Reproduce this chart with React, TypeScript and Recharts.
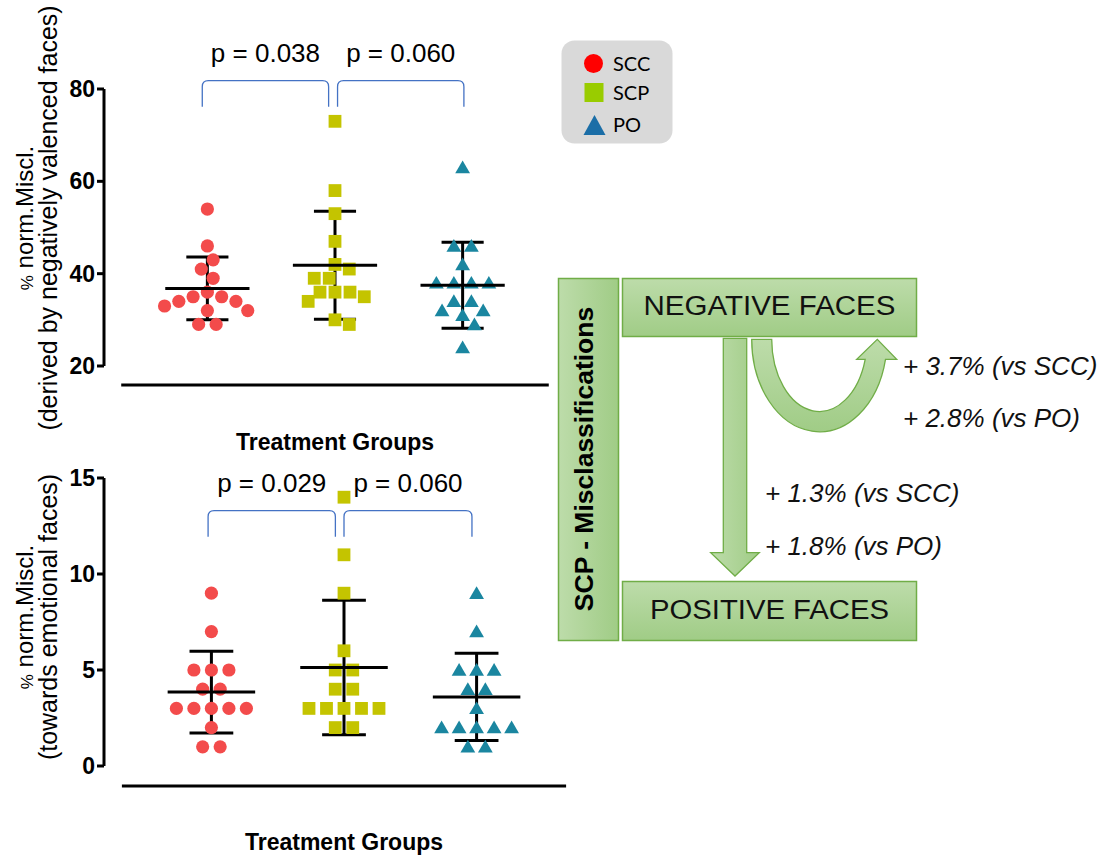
import { ComposedChart, Scatter, XAxis, YAxis, ErrorBar, ReferenceLine, Legend } from "recharts";

const FONT = "'Liberation Sans', Arial, Helvetica, sans-serif";

// treatment groups
const groups = ["SCC", "SCP", "PO"];

// top panel: % norm. misclassifications derived by negatively valenced faces
const negSCC = [54, 46, 43, 41, 39, 36, 35, 35, 34, 34, 33, 32, 32, 29, 29];
const negSCP = [73, 58, 53, 47, 42, 41, 39, 39, 36, 36, 36, 35, 34, 30, 29];
const negPO = [63, 46, 46, 42, 38, 38, 38, 38, 34, 34, 32, 32, 31, 29, 24];
const negMean = [36.8, 41.8, 37.5];
const negSd = [6.8, 11.7, 9.3];
const negTicks = [20, 40, 60, 80];
const negPValues = ["p = 0.038", "p = 0.060"];

// bottom panel: % norm. misclassifications towards emotional faces
const emoSCC = [9, 7, 5, 5, 5, 4, 4, 3, 3, 3, 3, 3, 2, 1, 1];
const emoSCP = [14, 11, 9, 6, 5, 5, 4, 4, 3, 3, 3, 3, 3, 2, 2];
const emoPO = [9, 7, 5, 5, 5, 4, 4, 3, 2, 2, 2, 2, 2, 1, 1];
const emoMean = [3.85, 5.13, 3.6];
const emoSd = [2.13, 3.5, 2.27];
const emoTicks = [0, 5, 10, 15];
const emoPValues = ["p = 0.029", "p = 0.060"];

// diagram annotations
const negShift = ["+ 3.7% (vs SCC)", "+ 2.8% (vs PO)"];
const posShift = ["+ 1.3% (vs SCC)", "+ 1.8% (vs PO)"];

const pointColors = ["#f34b4b", "#c4c400", "#1a86a0"];
const legendColors = ["#ff0000", "#99cc00", "#1b6ea7"];

const X_DOMAIN: [number, number] = [0.19, 3.81];
const Y_AXIS_W = 104;

// simple beeswarm: identical values form a centred row, otherwise nudge sideways
function swarm(values: number[], pxY: number, step: number, diam: number): number[] {
  const order = values.map((_, i) => i).sort((a, b) => values[b] - values[a]);
  const placed: { x: number; y: number }[] = [];
  const out = new Array(values.length).fill(0);
  const free = (x: number, y: number) =>
    placed.every((p) => (p.x - x) ** 2 + (p.y - y) ** 2 >= diam * diam - 0.01);
  let side = 1;
  let k = 0;
  while (k < order.length) {
    const v = values[order[k]];
    const same: number[] = [];
    while (k < order.length && values[order[k]] === v) same.push(order[k++]);
    const y = v * pxY;
    const row = same.map((_, i) => (i - (same.length - 1) / 2) * step);
    if (row.every((x) => free(x, y))) {
      row.forEach((x, i) => {
        out[same[i]] = x;
        placed.push({ x, y });
      });
      continue;
    }
    for (const idx of same) {
      const cands = [0];
      for (const p of placed) {
        const dy = Math.abs(p.y - y);
        if (dy < diam) {
          const d = Math.sqrt(diam * diam - dy * dy);
          cands.push(p.x + d, p.x - d);
        }
      }
      cands.sort((a, b) => Math.abs(a) - Math.abs(b) || b * side - a * side);
      const x = cands.find((c) => free(c, y)) ?? 0;
      out[idx] = x;
      placed.push({ x, y });
      if (x !== 0) side = -Math.sign(x);
    }
  }
  return out;
}

const CircleDot = (p: any) => <circle cx={p.cx} cy={p.cy} r={6.6} fill={pointColors[0]} />;
const SquareDot = (p: any) => <rect x={p.cx - 6.4} y={p.cy - 6.4} width={12.8} height={12.8} fill={pointColors[1]} />;
const TriangleDot = (p: any) => (
  <polygon points={`${p.cx},${p.cy - 7} ${p.cx + 7.4},${p.cy + 5.7} ${p.cx - 7.4},${p.cy + 5.7}`} fill={pointColors[2]} />
);
const shapes = [CircleDot, SquareDot, TriangleDot];

const YTitle = ({ titleLines, centerY }: any) => (
  <g fontFamily={FONT} fill="#000">
    <text transform={`translate(33,${centerY}) rotate(-90)`} textAnchor="middle" fontSize={24}>
      <tspan fontSize={17}>{titleLines[0].slice(0, 1)}</tspan>
      {titleLines[0].slice(1)}
    </text>
    <text transform={`translate(57,${centerY}) rotate(-90)`} textAnchor="middle" fontSize={25}>
      {titleLines[1]}
    </text>
  </g>
);

const XTitle = ({ cxPos, baseY }: any) => (
  <text x={cxPos} y={baseY} textAnchor="middle" fontFamily={FONT} fontSize={23} fontWeight="bold" fill="#000">
    Treatment Groups
  </text>
);

const Bracket = (p: any) => {
  const { x1, y1, x2, text } = p;
  const drop = 26;
  const r = 6;
  return (
    <g>
      <path
        d={`M${x1},${y1 + drop} L${x1},${y1 + r} Q${x1},${y1} ${x1 + r},${y1} L${x2 - r},${y1} Q${x2},${y1} ${x2},${y1 + r} L${x2},${y1 + drop}`}
        fill="none"
        stroke="#4472c4"
        strokeWidth={1.3}
      />
      <text x={(x1 + x2) / 2} y={y1 - 19} textAnchor="middle" fontFamily={FONT} fontSize={26} fill="#000">
        {text}
      </text>
    </g>
  );
};

const LegendBox = () => (
  <svg width={112} height={104} style={{ display: "block" }}>
    <rect x={0.5} y={0.5} width={111} height={103} rx={13} fill="#d9d9d9" />
    <circle cx={32.5} cy={23.5} r={9.5} fill={legendColors[0]} />
    <rect x={23.5} y={43} width={19} height={19} fill={legendColors[1]} />
    <polygon points="33.5,75 44.5,95 22.5,95" fill={legendColors[2]} />
    {groups.map((g, i) => (
      <text key={g} x={52} y={[30.5, 59.5, 92][i]} fontFamily="Lato, 'Open Sans', sans-serif" fontSize={20} fill="#000">
        {g}
      </text>
    ))}
  </svg>
);

type PanelProps = {
  values: number[][];
  mean: number[];
  sd: number[];
  ticks: number[];
  domain: [number, number];
  pValues: string[];
  brackets: number[][];
  bracketY: number;
  baseY: number;
  width: number;
  height: number;
  margin: { top: number; right: number; bottom: number; left: number };
  xAxisH: number;
  titleLines: string[];
  titleY: number;
  xTitleY: number;
  legend?: boolean;
};

function Panel(props: PanelProps) {
  const { values, mean, sd, ticks, domain, margin, width, height, xAxisH } = props;
  const plotH = height - margin.top - margin.bottom - xAxisH;
  const plotW = width - margin.left - margin.right - Y_AXIS_W;
  const pxY = plotH / (domain[1] - domain[0]);
  const pxX = plotW / (X_DOMAIN[1] - X_DOMAIN[0]);
  const plotCx = margin.left + Y_AXIS_W + plotW / 2;

  const series = values.map((vals, gi) => {
    const offs = swarm(vals, pxY, 17.5, 15);
    return vals.map((v, i) => ({ x: gi + 1 + offs[i] / pxX, y: v }));
  });
  const means = mean.map((m, gi) => ({ x: gi + 1, y: m, sd: sd[gi] }));
  const meanHalf = 0.33 * pxX;
  const MeanLine = (p: any) => (
    <line x1={p.cx - meanHalf} x2={p.cx + meanHalf} y1={p.cy} y2={p.cy} stroke="#000" strokeWidth={3} />
  );

  return (
    <div style={{ position: "absolute", left: 0, top: 0 }}>
      <ComposedChart width={width} height={height} margin={margin}>
        <XAxis
          type="number"
          dataKey="x"
          domain={X_DOMAIN}
          allowDataOverflow
          axisLine={false}
          tickLine={false}
          tick={false}
          height={xAxisH}
          label={<XTitle cxPos={plotCx} baseY={props.xTitleY} />}
        />
        <YAxis
          type="number"
          dataKey="y"
          domain={domain}
          ticks={ticks}
          allowDataOverflow
          width={Y_AXIS_W}
          tickSize={7}
          axisLine={{ stroke: "#000", strokeWidth: 3 }}
          tickLine={{ stroke: "#000", strokeWidth: 3 }}
          tick={{ fill: "#000", fontSize: 23, fontWeight: "bold", fontFamily: FONT }}
          label={<YTitle titleLines={props.titleLines} centerY={props.titleY} />}
        />
        {series.map((d, gi) => (
          <Scatter key={groups[gi]} name={groups[gi]} data={d} shape={shapes[gi]} isAnimationActive={false} />
        ))}
        <Scatter name="mean" data={means} shape={MeanLine} legendType="none" isAnimationActive={false}>
          <ErrorBar dataKey="sd" direction="y" width={0.165 * pxX} stroke="#000" strokeWidth={3} isAnimationActive={false} />
        </Scatter>
        <ReferenceLine
          segment={[
            { x: 0.325, y: props.baseY },
            { x: 3.675, y: props.baseY },
          ]}
          ifOverflow="visible"
          stroke="#000"
          strokeWidth={3}
        />
        {props.brackets.map((b, i) => (
          <ReferenceLine
            key={i}
            segment={[
              { x: b[0], y: props.bracketY },
              { x: b[1], y: props.bracketY },
            ]}
            ifOverflow="visible"
            shape={(p: any) => <Bracket {...p} text={props.pValues[i]} />}
          />
        ))}
        {props.legend && (
          <Legend
            layout="vertical"
            align="center"
            verticalAlign="middle"
            wrapperStyle={{ left: 561, top: 40, width: 112, height: 104 }}
            content={() => <LegendBox />}
          />
        )}
      </ComposedChart>
    </div>
  );
}

const arrowU =
  "M751.7,339.3 A67.7,92.4 0 0 0 885.5,359.3 L896.7,359.3 L877.3,339.3 L856.7,359.3 L865.2,359.3 A47.7,72.4 0 0 1 771.7,339.3 Z";
const arrowDown = "M723.3,338.3 L746.7,338.3 L746.7,552.7 L759.3,552.7 L735,576 L710.7,552.7 L723.3,552.7 Z";

const Diagram = () => (
  <svg width={1105} height={859} style={{ position: "absolute", left: 0, top: 0, pointerEvents: "none" }} fontFamily={FONT}>
    <defs>
      <linearGradient id="gv" x1="0" y1="0" x2="0" y2="1">
        <stop offset="0" stopColor="#bddcaa" />
        <stop offset="1" stopColor="#a0cc86" />
      </linearGradient>
      <linearGradient id="gh" x1="0" y1="0" x2="1" y2="0">
        <stop offset="0" stopColor="#bddcaa" />
        <stop offset="1" stopColor="#a0cc86" />
      </linearGradient>
    </defs>
    <rect x={558.5} y={278.5} width={60} height={362} fill="url(#gh)" stroke="#70ad47" strokeWidth={1.5} />
    <text transform="translate(593,459) rotate(-90)" textAnchor="middle" fontSize={26.5} fontWeight="bold" fill="#000">
      SCP - Misclassifications
    </text>
    <rect x={622.5} y={278.5} width={294} height={58} fill="url(#gv)" stroke="#70ad47" strokeWidth={1.5} />
    <text x={769.5} y={315} textAnchor="middle" fontSize={27} textLength={252} lengthAdjust="spacingAndGlyphs" fill="#111">
      NEGATIVE FACES
    </text>
    <rect x={622.5} y={581.5} width={294} height={59} fill="url(#gv)" stroke="#70ad47" strokeWidth={1.5} />
    <text x={769.5} y={619} textAnchor="middle" fontSize={27} textLength={239} lengthAdjust="spacingAndGlyphs" fill="#111">
      POSITIVE FACES
    </text>
    <path d={arrowDown} fill="url(#gh)" stroke="#70ad47" strokeWidth={1.3} />
    <path d={arrowU} fill="url(#gv)" stroke="#70ad47" strokeWidth={1.3} />
    {negShift.map((t, i) => (
      <text key={t} x={903} y={[375, 427][i]} fontSize={26} fontStyle="italic" fill="#111">
        {t}
      </text>
    ))}
    {posShift.map((t, i) => (
      <text key={t} x={765} y={[502, 555][i]} fontSize={26} fontStyle="italic" fill="#111">
        {t}
      </text>
    ))}
  </svg>
);

export default function App() {
  return (
    <div style={{ position: "absolute", left: 0, top: 0, width: 1105, height: 859, background: "#fff" }}>
      <Panel
        values={[negSCC, negSCP, negPO]}
        mean={negMean}
        sd={negSd}
        ticks={negTicks}
        domain={[20, 80]}
        pValues={negPValues}
        brackets={[
          [0.96, 1.95],
          [2.02, 3.01],
        ]}
        bracketY={81.8}
        baseY={15.9}
        width={700}
        height={460}
        margin={{ top: 89, right: 134, bottom: 0, left: 0 }}
        xAxisH={94}
        titleLines={["% norm.Miscl.", "(derived by negatively valenced faces)"]}
        titleY={218}
        xTitleY={450}
        legend
      />
      <Panel
        values={[emoSCC, emoSCP, emoPO]}
        mean={emoMean}
        sd={emoSd}
        ticks={emoTicks}
        domain={[0, 15]}
        pValues={emoPValues}
        brackets={[
          [0.975, 1.935],
          [2.0, 2.965],
        ]}
        bracketY={13.3}
        baseY={-1.04}
        width={600}
        height={859}
        margin={{ top: 478, right: 16, bottom: 0, left: 0 }}
        xAxisH={93}
        titleLines={["% norm.Miscl.", "(towards emotional faces)"]}
        titleY={617}
        xTitleY={850}
      />
      <Diagram />
    </div>
  );
}
